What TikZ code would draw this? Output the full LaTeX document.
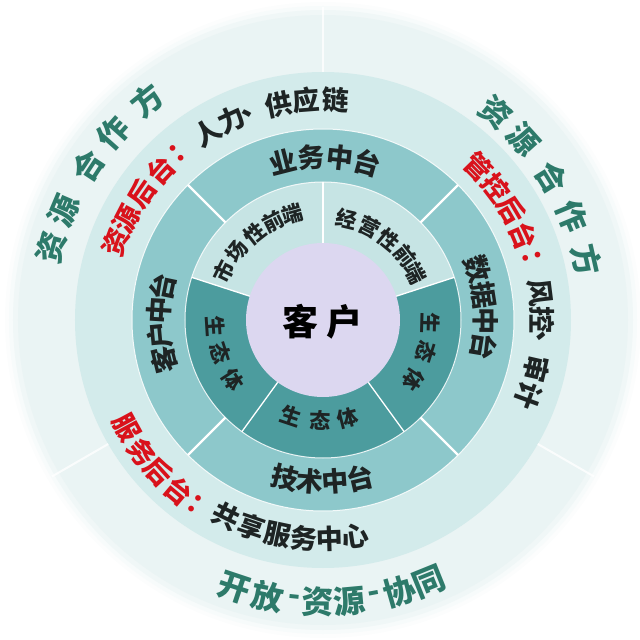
\documentclass[tikz,border=0pt]{standalone}
\usepackage{fontspec}
\newfontfamily\cjk{Noto Sans CJK SC}
\definecolor{cCenter}{HTML}{DCD7F0}
\definecolor{cFront}{HTML}{C6E4E4}
\definecolor{cEco}{HTML}{4C9C9E}
\definecolor{cMid}{HTML}{8DC8CB}
\definecolor{cBack}{HTML}{D3EBEB}
\definecolor{cOuter}{HTML}{EAF4F4}
\definecolor{cText}{HTML}{1E2424}
\definecolor{cRed}{HTML}{D9121B}
\definecolor{cGreen}{HTML}{2D7A6A}
\newcommand{\arctext}[5]{%
  \foreach \a/\ch [count=\i] in {#5}{%
    \node[#4,rotate=\a#3] (#1-\i) at (\a:#2) {\ch};}}
\tikzset{
  ch/.style={inner sep=0pt},
  t2/.style={ch,text=cText,font=\cjk\bfseries\fontsize{21}{21}\selectfont},
  t3/.style={ch,text=cText,font=\cjk\bfseries\fontsize{27}{27}\selectfont},
  t4/.style={ch,text=cText,font=\cjk\bfseries\fontsize{27}{27}\selectfont},
  t4r/.style={ch,text=cRed,font=\cjk\bfseries\fontsize{27}{27}\selectfont},
  t5/.style={ch,text=cGreen,font=\cjk\bfseries\fontsize{31}{31}\selectfont},
  t5b/.style={ch,text=cGreen,font=\cjk\bfseries\fontsize{32}{32}\selectfont},
  sep/.style={draw=white,line width=1.3pt},
  septhick/.style={draw=white,line width=2.2pt},
  sepfaint/.style={draw=white,line width=2pt,opacity=0.8},
  ringline/.style={draw=white,line width=1pt,opacity=0.85}
}
\begin{document}
\begin{tikzpicture}
\useasboundingbox (-323pt,-320pt) rectangle (317pt,320pt);
% outer ring with soft edge
\fill[cOuter!15!white] (0,0) circle (318pt);
\fill[cOuter!40!white] (0,0) circle (314pt);
\fill[cOuter!70!white] (0,0) circle (310pt);
\fill[cOuter] (0,0) circle (305pt);
% back-office ring
\fill[cBack] (0,0) circle (248pt);
% middle-office ring
\fill[cMid] (0,0) circle (191pt);
% front ring: eco sectors and two front sectors
\fill[cEco] (0,0) circle (138pt);
\fill[cFront] (0,0) -- (18:138pt) arc[start angle=18,end angle=162,radius=138pt] -- cycle;
% ring lines
\draw[ringline] (0,0) circle (138pt);
\draw[ringline] (0,0) circle (191pt);
% center
\fill[cCenter] (0,0) circle (77pt);
% separators
\foreach \s in {18,90,162,234,306} \draw[sep] (\s:77pt) -- (\s:138pt);
\foreach \s in {45,135,225,315} \draw[septhick] (\s:138pt) -- (\s:191pt);
\foreach \s in {90,210,330} \draw[sepfaint] (\s:248pt) -- (\s:313pt);
% center text
\node[ch,text=black,font=\cjk\bfseries\fontsize{36}{36}\selectfont] (kehu) at (0,-2pt) {客\hspace{8pt}户};
% ring 2
\arctext{sc}{110pt}{-90}{t2}{153.9/市,141.3/场,128/性,116.6/前,106/端}
\arctext{jy}{104pt}{-90}{t2}{76.6/经,63.2/营,50.6/性,38.1/前,27/端}
\arctext{ecoL}{108pt}{+90}{t2}{183.6/生,198/态,213.4/体}
\arctext{ecoB}{101pt}{+90}{t2}{251.4/生,268.3/态,284.3/体}
\arctext{ecoR}{108pt}{-90}{t2}{-1.6/生,-17.4/态,-33.7/体}
% ring 3
\arctext{yw}{163pt}{-90}{t3}{104.3/业,94.1/务,83.9/中,74.3/台}
\arctext{js}{162pt}{+90}{t3}{256.5/技,265.4/术,274.2/中,283.2/台}
\arctext{kh}{164pt}{-90}{t3}{194/客,185.3/户,176.5/中,168.3/台}
\arctext{sj}{163pt}{-90}{t3}{18.2/数,8.8/据,-0.3/中,-9.5/台}
% ring 4
\arctext{zyR}{221pt}{-90}{t4r}{159.4/资,152.7/源,145.2/后,137.3/台,129.5/：}
\arctext{zyB}{220pt}{-90}{t4}{121.8/人,114.5/力,108/、,101.6/供,94.4/应,86.8/链}
\arctext{gkR}{218pt}{-90}{t4r}{44.5/管,37.4/控,30.2/后,22.8/台,15/：}
\arctext{gkB}{219pt}{-90}{t4}{7.1/风,0/控,-6.4/、,-12.8/审,-20.2/计}
\arctext{fwR}{224pt}{+90}{t4r}{208.6/服,216.1/务,222.5/后,229.8/台,236.8/：}
\arctext{fwB}{219pt}{+90}{t4}{243.8/共,251.1/享,258.1/服,265/务,271.8/中,278.6/心}
% ring 5
\arctext{hzL}{281pt}{-90}{t5}{165/资,157/源,146.7/合,138.3/作,128.7/方}
\arctext{hzR}{270pt}{-90}{t5}{50.3/资,42/源,31.9/合,22.6/作,12.8/方}
\arctext{kf}{282pt}{+90}{t5b}{251.6/开,258.6/放,264.1/-,268.9/资,275.3/源,280.6/-,285.8/协,292/同}
\end{tikzpicture}
\end{document}
